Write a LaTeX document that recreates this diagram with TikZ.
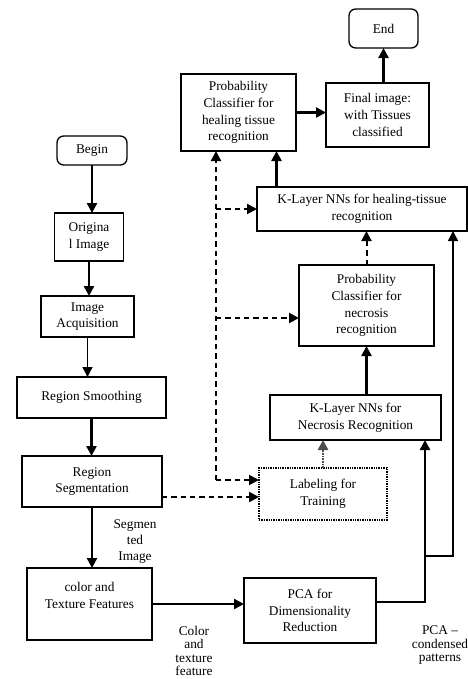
\documentclass[tikz,border=0pt]{standalone}
\usepackage{fontspec}
\setmainfont{Liberation Serif}
\usetikzlibrary{arrows.meta, positioning, calc}

\begin{document}
\begin{tikzpicture}[
		x=0.75pt, y=-0.75pt,
		every node/.style = {inner sep=1pt, outer sep=0pt, align=center, font=\fontsize{10}{12.5}\selectfont},
		box/.style = {draw, line width=1pt},
		rbox/.style = {box, rounded corners=5pt},
		dbox/.style = {draw, line width=1pt, dash pattern=on 1pt off 0.8pt},
		lbl/.style = {font=\fontsize{10}{10}\selectfont},
		arr/.style = {line width=1.8pt, -{Triangle[length=7.5pt, width=7.5pt]}},
		thinarr/.style = {line width=1.1pt, -{Triangle[length=7.5pt, width=7.5pt]}},
		dasharr/.style = {arr, line width=1.5pt, dash pattern=on 4pt off 3pt},
		dotarr/.style = {arr, line width=2.2pt, black!70, dash pattern=on 1.2pt off 0.8pt}
	]
	\useasboundingbox (0,0) rectangle (468,679);
	% right column
	\node (end)      [rbox, minimum width=51.75pt, minimum height=29.25pt] at (383.5,28.5) {End};
	\node (probheal) [box, line width=1.8pt, minimum width=86.25pt, minimum height=57.75pt] at (238.5,112.5) {Probability\\Classifier for\\healing tissue\\recognition};
	\node (final)    [box, line width=1.8pt, minimum width=77.25pt, minimum height=48pt] at (377.5,115) {Final image:\\with Tissues\\classified};
	\node (kheal)    [box, minimum width=157.5pt, minimum height=33pt] at (362,209) {K-Layer NNs for healing-tissue\\recognition};
	\node (probnec)  [box, minimum width=101.25pt, minimum height=60.75pt] at (366.5,305.5) {Probability\\Classifier for\\necrosis\\recognition};
	\node (knec)     [box, minimum width=128.25pt, minimum height=33.75pt] at (355.5,417.5) {K-Layer NNs for\\Necrosis Recognition};
	\node (label)    [dbox, minimum width=96pt, minimum height=39pt] at (323,494) {Labeling for\\Training};
	\node (pca)      [box, minimum width=99pt, minimum height=48.75pt] at (310,610.5) {PCA for\\Dimensionality\\Reduction};
	% left column
	\node (begin)    [rbox, minimum width=52.5pt, minimum height=21.75pt] at (92,150.5) {Begin};
	\node (orig)     [box, minimum width=51.75pt, minimum height=36pt] at (89,237) {Origina\\l Image};
	\node (acq)      [box, minimum width=69.75pt, minimum height=30.75pt] at (87.5,316.5) {Image\\Acquisition};
	\node (smooth)   [box, minimum width=111.75pt, minimum height=30.75pt] at (91.5,397.5) {Region Smoothing};
	\node (seg)      [box, line width=1.3pt, minimum width=105pt, minimum height=38.25pt] at (92,481.5) {Region\\Segmentation};
	\node (color)    [box, minimum width=93.75pt, minimum height=54pt] at (89.5,604) {color and\\Texture Features\\\mbox{}};
	% free labels
	\node (segimg)   [lbl, font=\fontsize{10}{12}\selectfont] at (135,542) {Segmen\\ted\\Image};
	\node (colfeat)  [lbl] at (194,651) {Color\\and\\texture\\feature};
	\node (pcacond)  [lbl] at (440,645) {PCA --\\condensed\\patterns};
	% junctions
	\coordinate (dbot) at (216,480);
	\coordinate (dnec) at (216,318);
	\coordinate (dseg) at ($(seg.east)+(0,15.5)$);
	\coordinate (pcaout) at ($(pca.east)+(0,-8.5)$);
	\coordinate (jn) at (425,556);
	\coordinate (jr) at (453,556);
	\coordinate (hup) at ($(probheal.south)+(38,0)$);
	% left chain
	\draw[arr] (begin) -- (begin.south |- orig.north);
	\draw[arr] (orig) -- (orig.south |- acq.north);
	\draw[thinarr] (acq) -- (acq.south |- smooth.north);
	\draw[arr] (smooth) -- (smooth.south |- seg.north);
	\draw[arr] (seg) -- (seg.south |- color.north);
	\draw[arr] (color.east) -- (color.east -| pca.west);
	% up the right side
	\draw[arr] (pcaout) -| (jn |- knec.south);
	\draw[thinarr] (jn) -- (jr) -- (jr |- kheal.south);
	\draw[dotarr] (label.north) -- (label.north |- knec.south);
	\draw[arr] (probnec.south |- knec.north) -- (probnec.south);
	\draw[dasharr] (probnec.north) -- (probnec.north |- kheal.south);
	\draw[arr] (hup |- kheal.north) -- (hup);
	\draw[arr] (probheal.east) -- (probheal.east -| final.west);
	\draw[arr] (final.north -| end.south) -- (end.south);
	% dashed training links
	\draw[dasharr] (dseg) -- (dseg -| label.west);
	\draw[dasharr] (dbot) -- (dbot -| label.west);
	\draw[dasharr] (dbot) -- (dbot |- probheal.south);
	\draw[dasharr] (dbot |- kheal.west) -- (kheal.west);
	\draw[dasharr] (dnec) -- (dnec -| probnec.west);
\end{tikzpicture}
\end{document}
